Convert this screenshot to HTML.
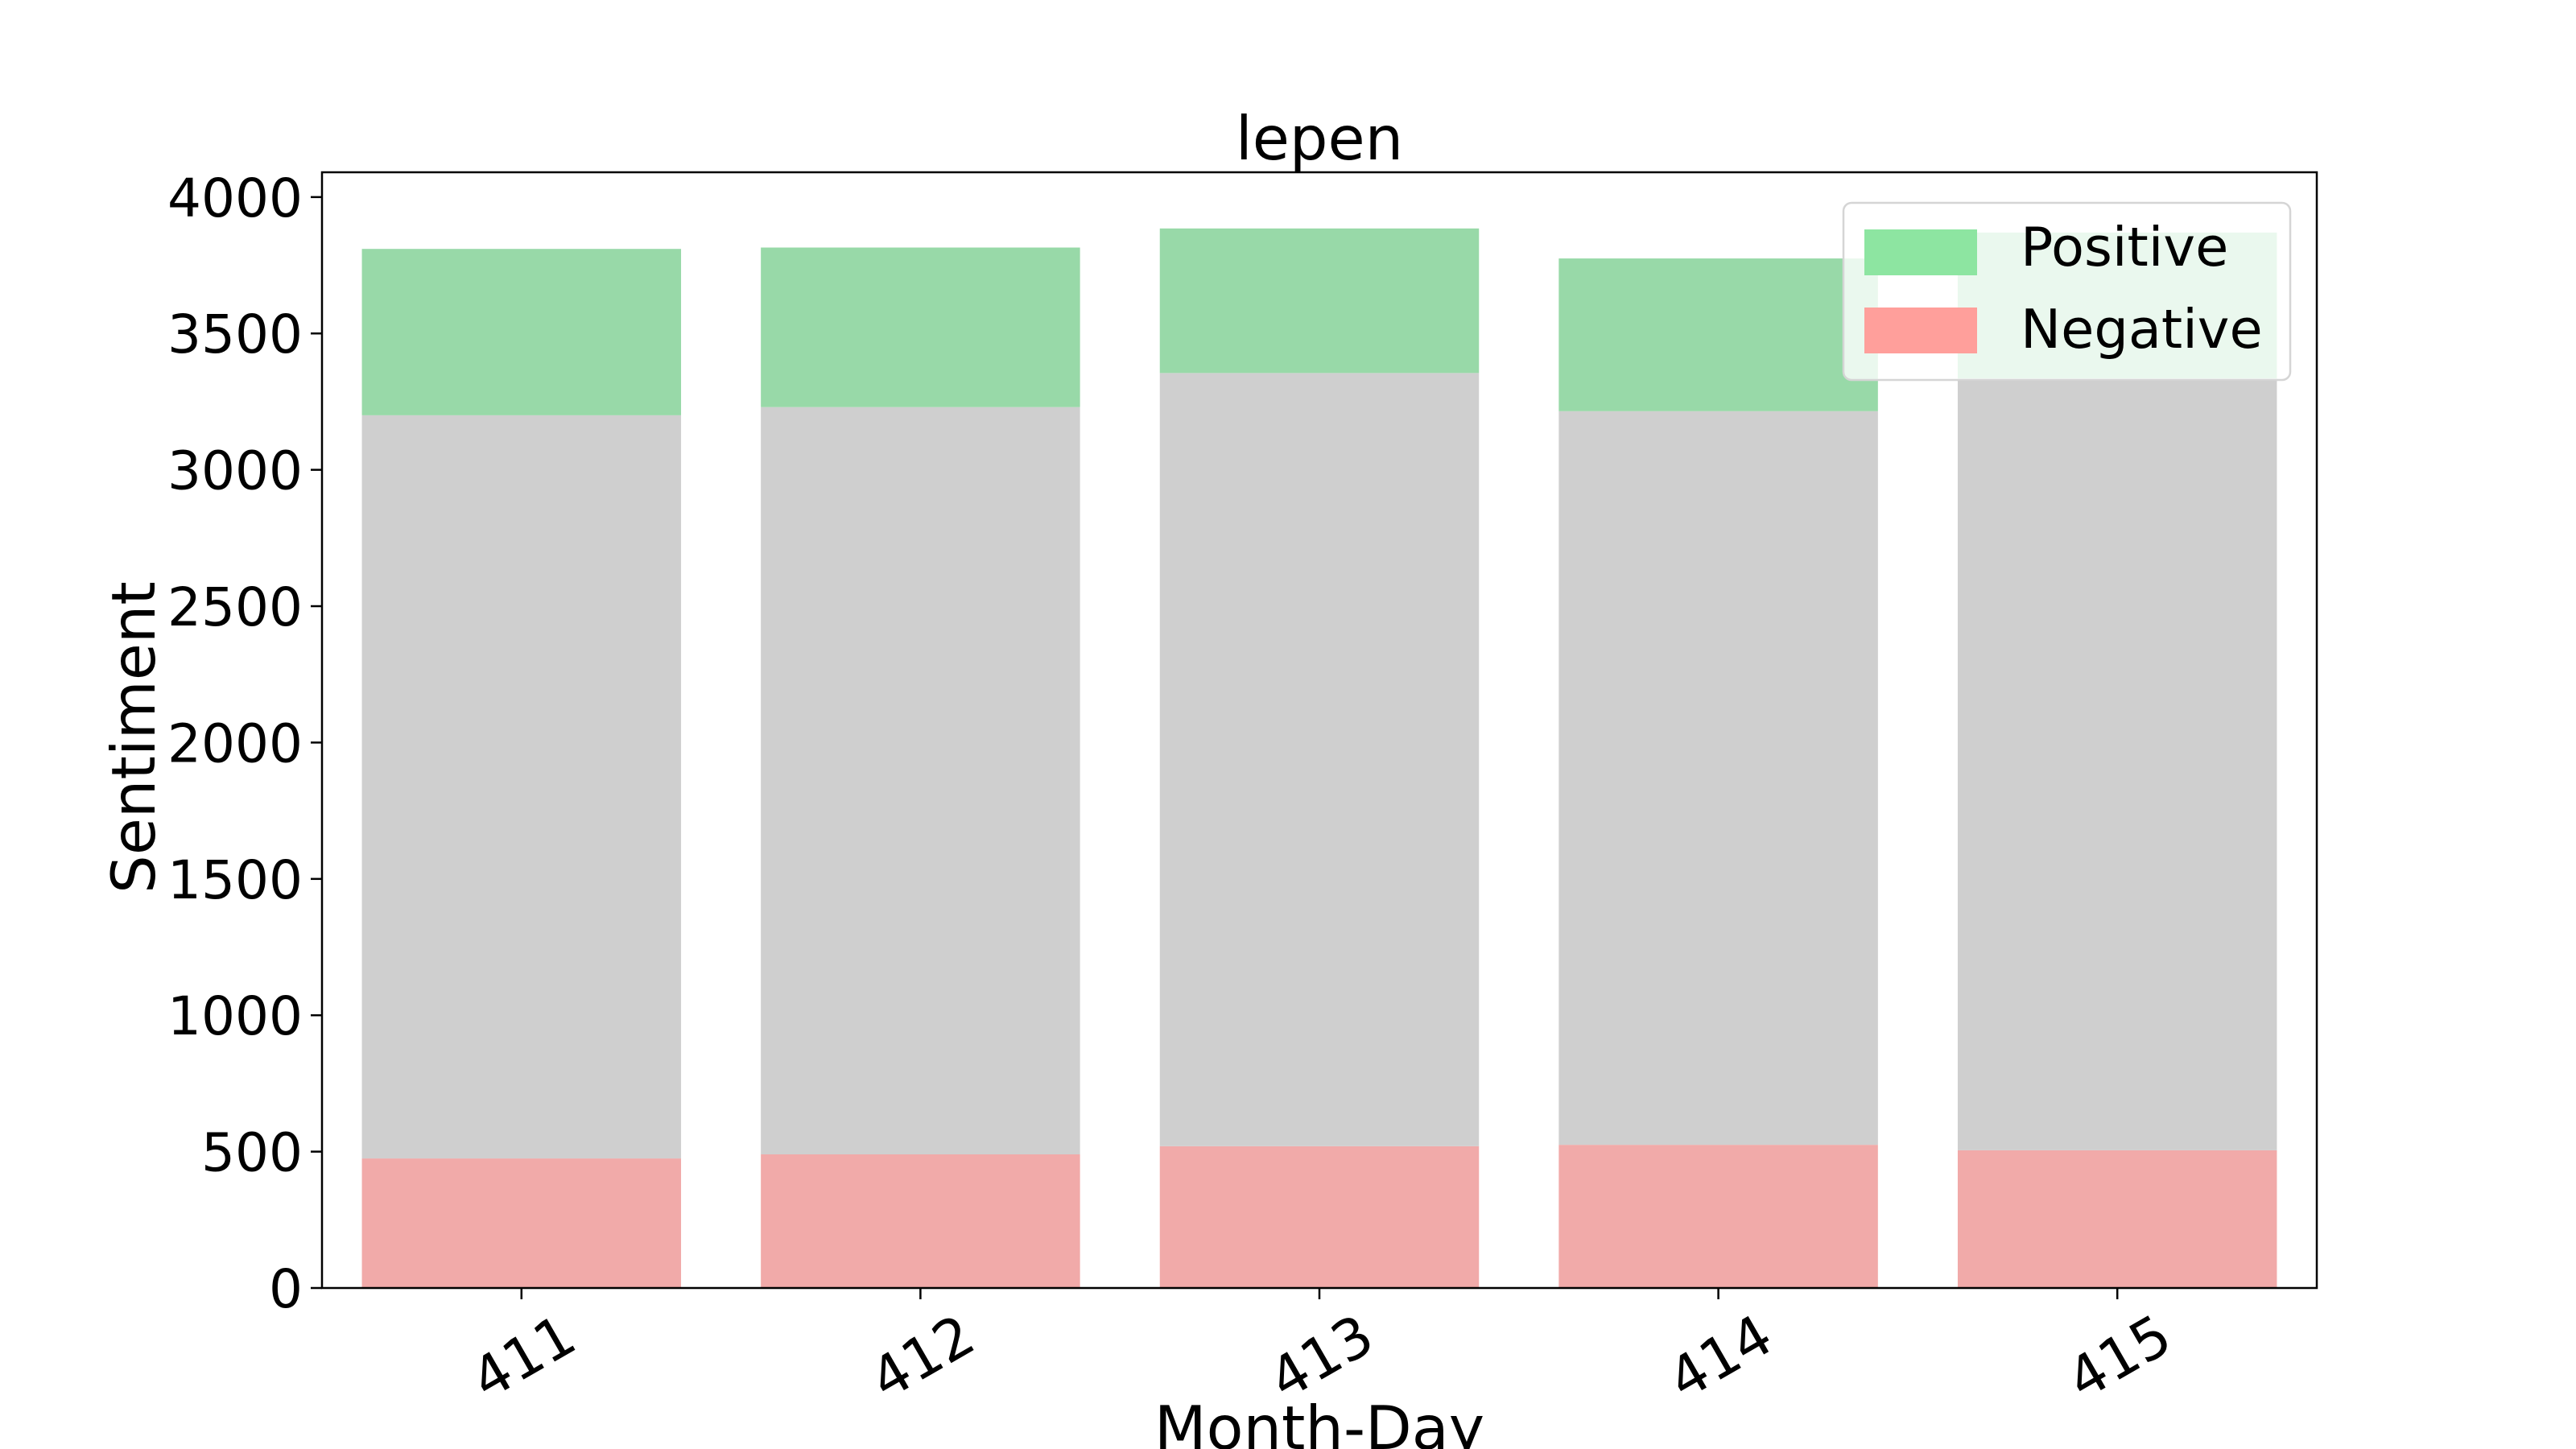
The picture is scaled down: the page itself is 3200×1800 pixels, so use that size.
<!DOCTYPE html>
<html><head><meta charset="utf-8"><style>
html,body{margin:0;padding:0;background:#fff;}
svg{display:block;font-family:"DejaVu Sans","Liberation Sans",sans-serif;}
</style></head><body>
<svg id="chart" width="3200" height="1800" viewBox="0 0 3200 1800">
<g id="bars"></g>
<g id="axes"></g>
</svg>
<script>
const categories = ["411","412","413","414","415"];
const negative = [475, 490, 520, 525, 505];
const neutral = [2725, 2740, 2835, 2690, 2830];
const positive = [610, 585, 530, 560, 535];
const yTicks = [0,500,1000,1500,2000,2500,3000,3500,4000];

const L=400,R=2878,T=214,B=1600,ymax=4091;
const NS="http://www.w3.org/2000/svg";
const xs=i=>L+(i+0.5)*(R-L)/categories.length;
const ys=v=>B-v*(B-T)/ymax;
const bw=0.8*(R-L)/categories.length;
function mk(tag,attrs,parent){const e=document.createElementNS(NS,tag);for(const k in attrs)e.setAttribute(k,attrs[k]);parent.appendChild(e);return e;}
const gb=document.getElementById('bars'), ga=document.getElementById('axes');
categories.forEach((c,i)=>{
  const segs=[[0,negative[i],'#f1aaa9','negative'],[negative[i],negative[i]+neutral[i],'#cfcfcf','neutral'],[negative[i]+neutral[i],negative[i]+neutral[i]+positive[i],'#98d9a8','positive']];
  segs.forEach(s=>{
    const r=mk('rect',{x:xs(i)-bw/2,y:ys(s[1]),width:bw,height:ys(s[0])-ys(s[1]),fill:s[2]},gb);
    
    
  });
  const t=mk('line',{x1:xs(i),x2:xs(i),y1:B,y2:B+14,stroke:'#000','stroke-width':2.5},ga);
  
  
  const lb=mk('text',{x:0,y:0,'font-size':70,'text-anchor':'end',transform:`translate(${xs(i)+46},${B+28}) rotate(-30)`,dy:'0.75em'},ga);
  lb.textContent=c;
  
  
});
yTicks.forEach(v=>{
  const t=mk('line',{x1:L-14,x2:L,y1:ys(v),y2:ys(v),stroke:'#000','stroke-width':2.5},ga);
  
  
  const lb=mk('text',{x:L-24,y:ys(v)+24,'font-size':66,'text-anchor':'end'},ga);
  lb.textContent=v;
  
  
});
const fr=mk('rect',{x:L,y:T,width:R-L,height:B-T,fill:'none',stroke:'#000','stroke-width':2.5},ga);


</script>
<svg style="position:absolute;left:0;top:0" width="3200" height="1800">
<text x="1639" y="198" font-size="75" text-anchor="middle" font-family="DejaVu Sans, Liberation Sans, sans-serif">lepen</text>
<text transform="translate(192,916) rotate(-90)" font-size="75" text-anchor="middle" font-family="DejaVu Sans, Liberation Sans, sans-serif">Sentiment</text>
<text x="1639" y="1800" font-size="75" text-anchor="middle" font-family="DejaVu Sans, Liberation Sans, sans-serif">Month-Day</text>
<g>
<rect x="2290" y="252" width="555" height="220" rx="10" fill="#fff" fill-opacity="0.8" stroke="#d5d5d5" stroke-width="2.5"/>
<rect x="2316" y="285" width="140" height="57" fill="#8de5a1"/>
<text x="2510" y="330" font-size="67" font-family="DejaVu Sans, Liberation Sans, sans-serif">Positive</text>
<rect x="2316" y="382" width="140" height="57" fill="#ff9f9b"/>
<text x="2510" y="432" font-size="67" font-family="DejaVu Sans, Liberation Sans, sans-serif">Negative</text>
</g>
</svg>
</body></html>
